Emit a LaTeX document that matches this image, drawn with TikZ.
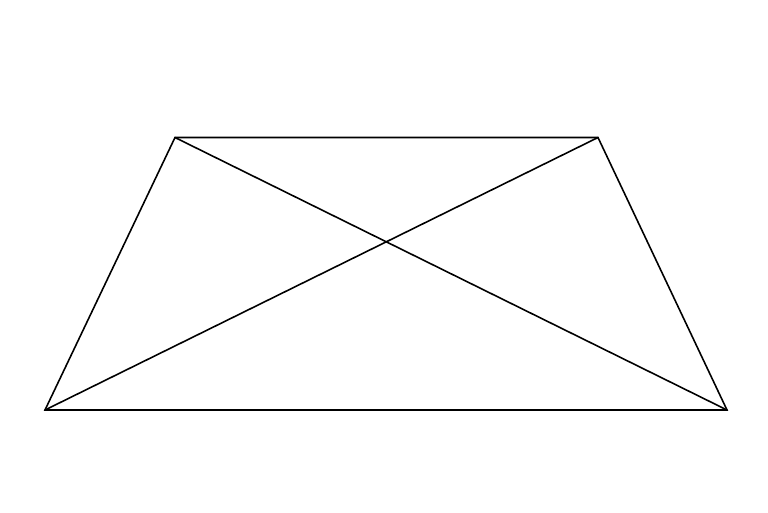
\documentclass[tikz,border=0pt]{standalone}
\usetikzlibrary{calc}

\begin{document}
\begin{tikzpicture}[x=0.02cm, y=-0.02cm, edge/.style={line width=0.9pt, line join=miter}]
	\useasboundingbox (0,0) rectangle (768,512);
	% corners of the trapezoid
	\coordinate (tl) at (175,137.5);
	\coordinate (tr) at (598,137.5);
	\coordinate (bl) at (45,410);
	\coordinate (br) at (727,410);
	\draw[edge] (tl) -- (tr) -- (br) -- (bl) -- cycle;
	% diagonals
	\draw[edge] (tl) -- (br);
	\draw[edge] (tr) -- (bl);
\end{tikzpicture}
\end{document}
